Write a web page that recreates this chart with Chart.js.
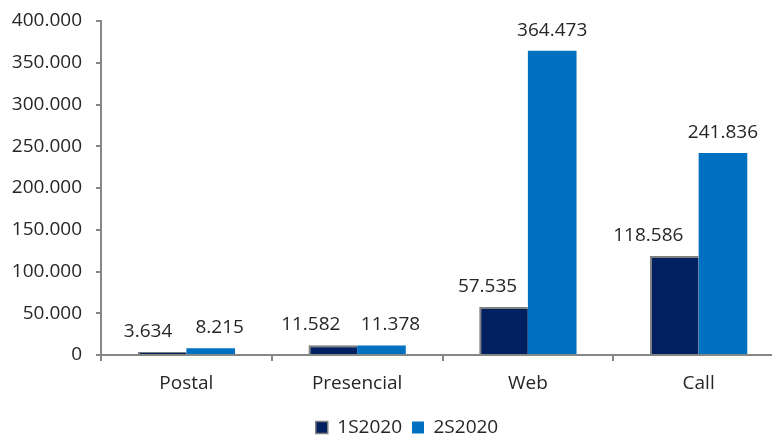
<!DOCTYPE html>
<html>
<head>
<meta charset="utf-8">
<script src="https://cdn.jsdelivr.net/npm/chart.js@4"></script>
<style>
html,body{margin:0;padding:0;background:#fff;overflow:hidden;}
#wrap{width:790px;height:437px;position:relative;}
</style>
</head>
<body>
<div id="wrap"><canvas id="c" width="790" height="437"></canvas></div>
<script>
const categories = ["Postal", "Presencial", "Web", "Call"];
const series1Name = "1S2020";
const series2Name = "2S2020";
const series1 = [3634, 11582, 57535, 118586];
const series2 = [8215, 11378, 364473, 241836];
const yTicks = [0, 50000, 100000, 150000, 200000, 250000, 300000, 350000, 400000];

const FONT = "'Open Sans', 'Liberation Sans', sans-serif";
const FS = 19;
const TXT = '#262626';
const fmt = v => v.toString().replace(/\B(?=(\d{3})+(?!\d))/g, '.');

const labelPlugin = {
  id: 'valLabels',
  afterDatasetsDraw(chart, args, opts) {
    const ctx = chart.ctx;
    ctx.save();
    ctx.font = FS + "px " + FONT;
    ctx.fillStyle = TXT;
    ctx.textAlign = 'center';
    ctx.textBaseline = 'alphabetic';
    chart.data.datasets.forEach((ds, di) => {
      const meta = chart.getDatasetMeta(di);
      meta.data.forEach((bar, i) => {
        const dx = (opts.dx[di] || [])[i] || 0;
        ctx.fillText(fmt(ds.data[i]), bar.x + dx, bar.y - 15);
      });
    });
    ctx.restore();
  }
};

const legendShift = {
  id: 'legendShift',
  afterLayout(chart, args, opts) {
    const lg = chart.legend;
    if (lg) { lg.left += opts.dx; lg.right += opts.dx; }
  }
};

new Chart(document.getElementById('c'), {
  type: 'bar',
  data: {
    labels: categories,
    datasets: [
      { label: series1Name, data: series1, backgroundColor: '#002060',
        borderColor: '#7f7f7f', borderWidth: {top: 2, left: 2, right: 0, bottom: 0},
        categoryPercentage: 0.57, barPercentage: 1.0 },
      { label: series2Name, data: series2, backgroundColor: '#0070C0',
        borderColor: '#0070C0', borderWidth: 0,
        categoryPercentage: 0.57, barPercentage: 1.0 }
    ]
  },
  options: {
    responsive: false,
    animation: false,
    layout: { padding: { left: 0, right: 6, top: 21, bottom: -10 } },
    plugins: {
      legend: {
        position: 'bottom',
        labels: {
          font: { family: FONT, size: FS },
          color: TXT,
          boxWidth: 12, boxHeight: 12, padding: 10,
          generateLabels(chart) {
            return chart.data.datasets.map((ds, i) => ({
              text: ds.label,
              fillStyle: ds.backgroundColor,
              strokeStyle: i === 0 ? '#7f7f7f' : ds.backgroundColor,
              lineWidth: i === 0 ? 1.5 : 0,
              hidden: false,
              datasetIndex: i,
              fontColor: TXT
            }));
          }
        }
      },
      legendShift: { dx: 15 },
      tooltip: { enabled: false },
      valLabels: { dx: [[-14, -22, -16, -26], [9, 9, 0, 0]] }
    },
    scales: {
      x: {
        afterFit(scale) { scale.height = 53; scale.paddingLeft = 0; scale.paddingRight = 0; },
        grid: { offset: true, drawOnChartArea: false, drawTicks: true, tickLength: 6, color: '#868686', lineWidth: 2 },
        border: { display: true, color: '#868686', width: 2 },
        ticks: { font: { family: FONT, size: FS }, color: TXT, padding: 11 }
      },
      y: {
        min: 0, max: 400000,
        afterFit(scale) { scale.width = 101; scale.paddingTop = 0; scale.paddingBottom = 0; },
        afterBuildTicks(scale) { scale.ticks = yTicks.map(v => ({ value: v })); },
        grid: { drawOnChartArea: false, drawTicks: true, tickLength: 5, color: '#868686', lineWidth: 2 },
        border: { display: true, color: '#868686', width: 2 },
        ticks: { font: { family: FONT, size: FS }, color: TXT, padding: 14,
                 callback: v => fmt(v) }
      }
    }
  },
  plugins: [labelPlugin, legendShift]
});
</script>
</body>
</html>
